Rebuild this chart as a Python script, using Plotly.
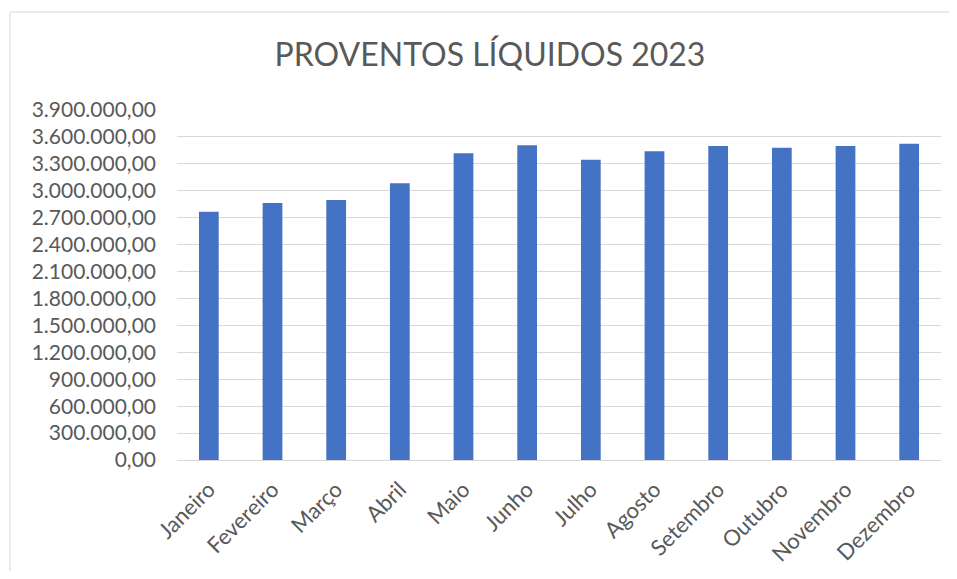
import plotly.graph_objects as go

months = ["Janeiro", "Fevereiro", "Março", "Abril", "Maio", "Junho",
          "Julho", "Agosto", "Setembro", "Outubro", "Novembro", "Dezembro"]
values = [2767000, 2865000, 2898000, 3084000, 3418000, 3507000,
          3347000, 3440000, 3499000, 3480000, 3499000, 3525000]
title_text = "PROVENTOS LÍQUIDOS 2023"
y_ticks = [i * 300000 for i in range(14)]

FONT = "Lato"
GRAY = "#595959"
OFF = 8  # page body margin

fig = go.Figure(go.Bar(x=months, y=values, marker=dict(color="#4472C4", line=dict(width=0)),
                       hoverinfo="x+y"))

W, H = 957 - 2 * OFF, 579 - 2 * OFF
L, T = 177 - OFF, 110 - OFF
R = W - (941 - OFF)
B = H - (460 - OFF)
pw, ph = W - L - R, H - T - B

fig.update_layout(
    width=W, height=H,
    margin=dict(l=L, r=R, t=T, b=B, autoexpand=False),
    paper_bgcolor="white", plot_bgcolor="white",
    separators=",.",
    bargap=0.69,
    showlegend=False,
    title=dict(text=title_text, x=(490 - OFF) / W, xref="container", xanchor="center",
               y=1 - (55 - OFF) / H, yref="container", yanchor="middle",
               font=dict(family=FONT, size=32, color=GRAY)),
    xaxis=dict(tickangle=-45, tickfont=dict(family=FONT, size=22, color=GRAY),
               showgrid=False, showline=True, linecolor="#d9d9d9", linewidth=1,
               ticks="", ticklabelstandoff=7, fixedrange=True),
    yaxis=dict(range=[0, 3900000], tickvals=y_ticks, tickformat=",.2f",
               tickfont=dict(family=FONT, size=21, color=GRAY),
               showgrid=True, gridcolor="#d9d9d9", gridwidth=1,
               zeroline=True, zerolinecolor="#d9d9d9", zerolinewidth=1,
               showline=False, ticks="", ticklabelstandoff=20, fixedrange=True),
    shapes=[dict(type="rect", xref="paper", yref="paper",
                 x0=(10 - 177) / pw, x1=(W + 30 - L) / pw,
                 y0=(460 - 600) / ph, y1=(460 - 12) / ph,
                 line=dict(color="#d9d9d9", width=1), fillcolor="rgba(0,0,0,0)",
                 layer="below")],
)

fig.write_html("out.html")
